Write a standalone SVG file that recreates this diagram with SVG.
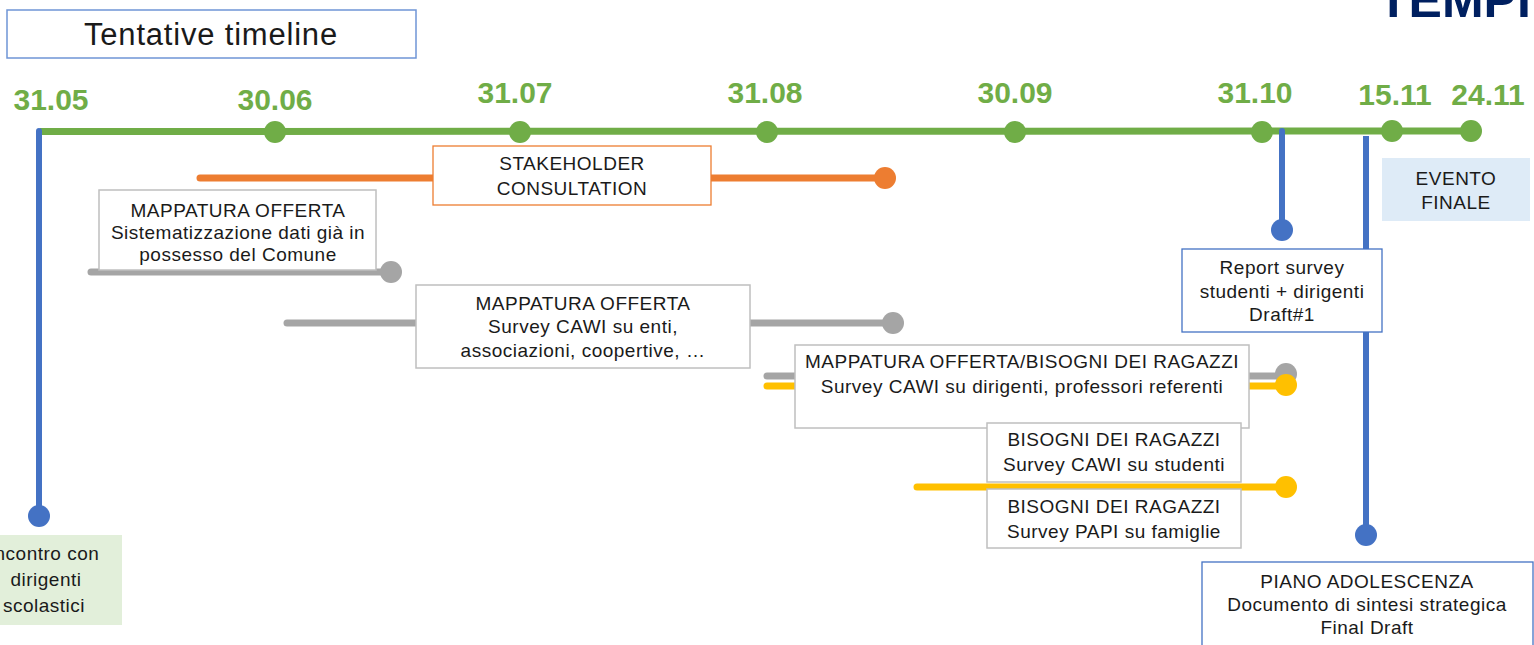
<svg xmlns="http://www.w3.org/2000/svg" width="1534" height="645" viewBox="0 0 1534 645">
<style>
text{font-family:"Liberation Sans",Arial,sans-serif;fill:#1a1a1a;}
.t{font-size:19px;letter-spacing:0.5px;text-anchor:middle;}
.d{font-size:30px;font-weight:bold;fill:#70AD47;text-anchor:middle;}
.box{fill:#fff;stroke:#BFBFBF;stroke-width:1.5;}
.bbox{fill:#fff;stroke:#4472C4;stroke-width:1.3;}
.g{stroke:#70AD47;stroke-width:7;fill:none;}
.b{stroke:#4472C4;stroke-width:6;fill:none;stroke-linecap:round;}
.o{stroke:#ED7D31;stroke-width:7;fill:none;stroke-linecap:round;}
.gr{stroke:#A5A5A5;stroke-width:7;fill:none;stroke-linecap:round;}
.y{stroke:#FFC000;stroke-width:7;fill:none;stroke-linecap:round;}
</style>
<rect width="1534" height="645" fill="#fff"/>
<text x="1378" y="17" style="font-size:50px;font-weight:bold;fill:#002060;">TEMPI</text>
<g id="title">
<rect x="7" y="10" width="409" height="48" fill="#fff" stroke="#6F95D6" stroke-width="1.5"/>
<text x="211" y="45" style="font-size:31px;letter-spacing:0.8px;text-anchor:middle;">Tentative timeline</text>
</g>
<g id="connectors">
<line class="g" x1="40" y1="131.5" x2="1471" y2="131"/>
<line class="b" x1="39" y1="131" x2="39" y2="515"/>
<line class="b" x1="1282" y1="131" x2="1282" y2="230"/>
<line class="b" x1="1366" y1="136" x2="1366" y2="535" style="stroke-linecap:butt"/>
<line class="o" x1="200" y1="178" x2="885" y2="178"/>
<line class="gr" x1="91" y1="272" x2="391" y2="272"/>
<line class="gr" x1="287" y1="323" x2="893" y2="323"/>
<line class="gr" x1="767" y1="376" x2="1286" y2="376"/>
<line class="y" x1="767" y1="386" x2="1286" y2="386"/>
<line class="y" x1="917" y1="487" x2="1286" y2="487"/>
<g fill="#70AD47">
<circle cx="275" cy="132" r="11"/>
<circle cx="520" cy="132" r="11"/>
<circle cx="767" cy="132" r="11"/>
<circle cx="1015" cy="132" r="11"/>
<circle cx="1262" cy="132" r="11"/>
<circle cx="1392" cy="131" r="11"/>
<circle cx="1471" cy="131" r="11"/>
</g>
<g fill="#4472C4">
<circle cx="39" cy="516" r="11"/>
<circle cx="1282" cy="230" r="11"/>
<circle cx="1366" cy="535" r="11"/>
</g>
<circle cx="885" cy="178" r="11" fill="#ED7D31"/>
<g fill="#A5A5A5">
<circle cx="391" cy="272" r="11"/>
<circle cx="893" cy="323" r="11"/>
<circle cx="1286" cy="374" r="11"/>
</g>
<g fill="#FFC000">
<circle cx="1286" cy="385" r="11"/>
<circle cx="1286" cy="487" r="11"/>
</g>
</g>
<g id="dates">
<text class="d" x="51" y="110">31.05</text>
<text class="d" x="275" y="110">30.06</text>
<text class="d" x="515" y="103">31.07</text>
<text class="d" x="765" y="103">31.08</text>
<text class="d" x="1015" y="103">30.09</text>
<text class="d" x="1255" y="103">31.10</text>
<text class="d" x="1395" y="105">15.11</text>
<text class="d" x="1488" y="105">24.11</text>
</g>
<g id="incontro">
<rect x="-30" y="535" width="152" height="90" fill="#E2EFDA"/>
<text class="t" x="44" y="560">Incontro con</text>
<text class="t" x="46" y="586">dirigenti</text>
<text class="t" x="44" y="612">scolastici</text>
</g>
<g id="stakeholder">
<rect x="433" y="146" width="278" height="59" fill="#fff" stroke="#ED7D31" stroke-width="1.3"/>
<text class="t" x="572" y="170">STAKEHOLDER</text>
<text class="t" x="572" y="195">CONSULTATION</text>
</g>
<g id="mappatura1">
<rect class="box" x="99" y="190" width="277" height="80"/>
<text class="t" x="238" y="217">MAPPATURA OFFERTA</text>
<text class="t" x="238" y="239">Sistematizzazione dati già in</text>
<text class="t" x="238" y="261">possesso del Comune</text>
</g>
<g id="mappatura2">
<rect class="box" x="416" y="285" width="334" height="83"/>
<text class="t" x="583" y="310">MAPPATURA OFFERTA</text>
<text class="t" x="583" y="333">Survey CAWI su enti,</text>
<text class="t" x="583" y="357">associazioni, coopertive, …</text>
</g>
<g id="mappatura3">
<rect class="box" x="795" y="345" width="454" height="83"/>
<text class="t" x="1022" y="368">MAPPATURA OFFERTA/BISOGNI DEI RAGAZZI</text>
<text class="t" x="1022" y="393">Survey CAWI su dirigenti, professori referenti</text>
</g>
<g id="bisogni1">
<rect class="box" x="987" y="423" width="254" height="59"/>
<text class="t" x="1114" y="446">BISOGNI DEI RAGAZZI</text>
<text class="t" x="1114" y="471">Survey CAWI su studenti</text>
</g>
<g id="bisogni2">
<rect class="box" x="987" y="489" width="254" height="59"/>
<text class="t" x="1114" y="513">BISOGNI DEI RAGAZZI</text>
<text class="t" x="1114" y="538">Survey PAPI su famiglie</text>
</g>
<g id="evento">
<rect x="1382" y="158" width="148" height="63" fill="#DEEBF7"/>
<text class="t" x="1456" y="185">EVENTO</text>
<text class="t" x="1456" y="209">FINALE</text>
</g>
<g id="report">
<rect class="bbox" x="1182" y="249" width="200" height="83"/>
<text class="t" x="1282" y="274">Report survey</text>
<text class="t" x="1282" y="298">studenti + dirigenti</text>
<text class="t" x="1282" y="321">Draft#1</text>
</g>
<g id="piano">
<rect class="bbox" x="1202" y="562" width="331" height="90"/>
<text class="t" x="1367" y="588">PIANO ADOLESCENZA</text>
<text class="t" x="1367" y="611">Documento di sintesi strategica</text>
<text class="t" x="1367" y="634">Final Draft</text>
</g>
</svg>
